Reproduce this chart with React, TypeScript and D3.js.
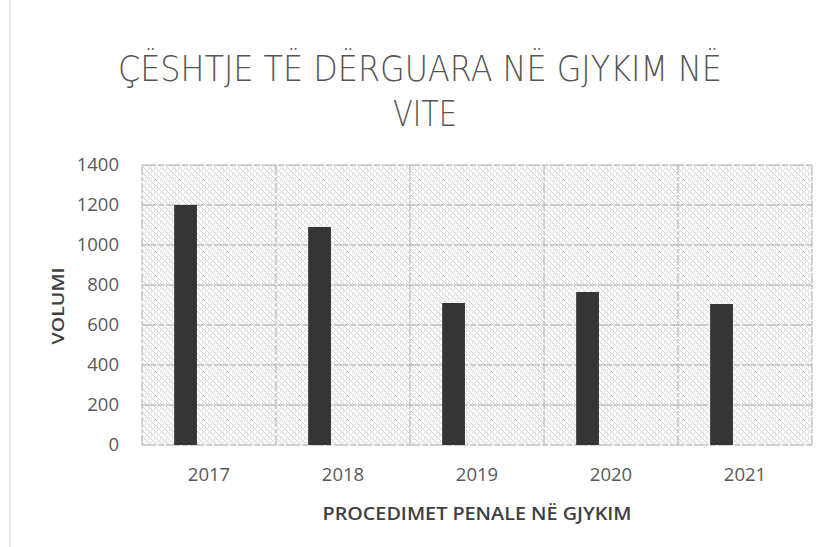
import React from "react";
import * as d3 from "d3";

const years = ["2017", "2018", "2019", "2020", "2021"];
const volumes = [1200, 1090, 710, 765, 705];
const yTicks = [0, 200, 400, 600, 800, 1000, 1200, 1400];
const titleLines = ["ÇËSHTJE TË DËRGUARA NË GJYKIM NË", "VITE"];
const xTitle = "PROCEDIMET PENALE NË GJYKIM";
const yTitle = "VOLUMI";

const W = 825;
const H = 547;
const plot = { left: 142, right: 812, top: 165, bottom: 445 };

export default function App() {
  const x = d3.scaleBand<string>().domain(years).range([plot.left, plot.right]).padding(0);
  const y = d3.scaleLinear().domain([0, 1400]).range([plot.bottom, plot.top]);
  const bw = x.bandwidth();
  const vLines = [...years.map((d) => x(d) as number), plot.right];
  const font = "'Open Sans', 'Noto Sans', sans-serif";
  const titleFont = "'DejaVu Sans', 'Open Sans', sans-serif";

  return (
    <svg width={W} height={H} style={{ position: "absolute", left: 0, top: 0, background: "#fff" }}>
      <defs>
        <pattern id="hatch" width="6" height="6" patternUnits="userSpaceOnUse">
          <rect width="6" height="6" fill="#fcfcfc" />
          <path d="M0,0 L6,6 M-1,5 L1,7 M5,-1 L7,1" stroke="#c8c8c8" strokeWidth="0.85" />
          <circle cx="4.5" cy="1" r="0.55" fill="#bdbdbd" />
          <circle cx="1.5" cy="4" r="0.55" fill="#bdbdbd" />
        </pattern>
      </defs>

      <line x1={10} x2={10} y1={0} y2={H} stroke="#d0d0d0" strokeWidth={1} />

      {titleLines.map((t, i) => (
        <text
          key={t}
          x={i === 0 ? 420 : 425}
          y={81 + i * 45}
          textAnchor="middle"
          fontFamily={titleFont}
          fontWeight={200}
          fontSize={36}
          fill="#555"
          textLength={i === 0 ? 604 : 64}
          lengthAdjust="spacingAndGlyphs"
        >
          {t}
        </text>
      ))}

      <rect
        x={plot.left}
        y={plot.top}
        width={plot.right - plot.left}
        height={plot.bottom - plot.top}
        fill="url(#hatch)"
      />

      {yTicks.map((t) => (
        <line key={"h" + t} x1={plot.left} x2={plot.right} y1={y(t)} y2={y(t)} stroke="#a8a8a8" strokeWidth={1} strokeDasharray="14 2 6 2" />
      ))}
      {vLines.map((v, i) => (
        <line key={"v" + i} x1={v} x2={v} y1={plot.top} y2={plot.bottom} stroke="#b0b0b0" strokeWidth={1} strokeDasharray="10 2 4 2" />
      ))}

      {years.map((d, i) => (
        <rect
          key={d}
          x={(x(d) as number) + bw * 0.24}
          y={y(volumes[i])}
          width={bw * 0.17}
          height={y(0) - y(volumes[i])}
          fill="#353535"
        />
      ))}

      {yTicks.map((t) => (
        <text key={"yt" + t} x={119} y={y(t)} dy="0.35em" textAnchor="end" fontFamily={font} fontSize={18.5} fill="#595959">
          {t}
        </text>
      ))}

      {years.map((d) => (
        <text key={"xt" + d} x={(x(d) as number) + bw / 2} y={481} textAnchor="middle" fontFamily={font} fontSize={18.5} fill="#595959">
          {d}
        </text>
      ))}

      <text
        x={(plot.left + plot.right) / 2}
        y={520}
        textAnchor="middle"
        fontFamily={font}
        fontWeight={600}
        fontSize={18}
        fill="#404040"
        textLength={309}
        lengthAdjust="spacingAndGlyphs"
      >
        {xTitle}
      </text>

      <text
        transform={`translate(58, 306) rotate(-90)`}
        dy="0.35em"
        textAnchor="middle"
        fontFamily={font}
        fontWeight={600}
        fontSize={17}
        fill="#404040"
        textLength={77}
        lengthAdjust="spacingAndGlyphs"
      >
        {yTitle}
      </text>
    </svg>
  );
}
